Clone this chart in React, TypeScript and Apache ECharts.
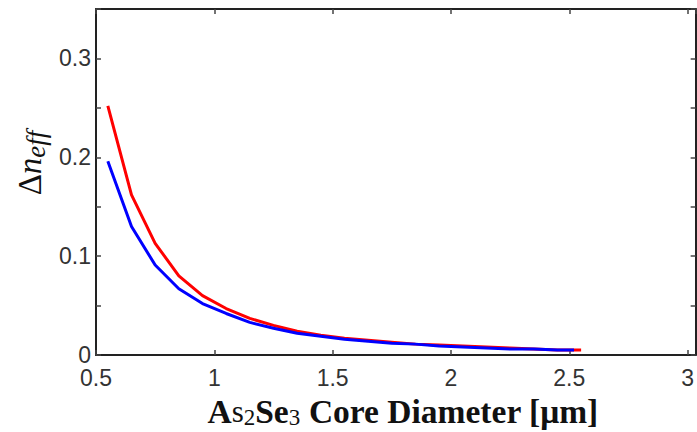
import React, { useEffect, useRef } from "react";
import * as echarts from "echarts";

const redX = [0.55, 0.65, 0.75, 0.85, 0.95, 1.05, 1.15, 1.25, 1.35, 1.45, 1.55, 1.65, 1.75, 1.85, 1.95, 2.05, 2.15, 2.25, 2.35, 2.45, 2.55];
const redY = [0.252, 0.162, 0.113, 0.08, 0.06, 0.047, 0.037, 0.03, 0.024, 0.02, 0.017, 0.015, 0.013, 0.011, 0.01, 0.009, 0.008, 0.007, 0.006, 0.005, 0.005];
const blueX = [0.55, 0.65, 0.75, 0.85, 0.95, 1.05, 1.15, 1.25, 1.35, 1.45, 1.55, 1.65, 1.75, 1.85, 1.95, 2.05, 2.15, 2.25, 2.35, 2.45, 2.52];
const blueY = [0.196, 0.13, 0.091, 0.067, 0.052, 0.042, 0.033, 0.027, 0.022, 0.019, 0.016, 0.014, 0.012, 0.011, 0.009, 0.008, 0.007, 0.006, 0.006, 0.005, 0.005];

const xMin = 0.5;
const xMax = 3.034;
const xInterval = 0.5;
const yMin = 0;
const yMax = 0.35;
const yInterval = 0.05;

const AXIS_COLOR = "#222";

export default function App() {
  const ref = useRef<HTMLDivElement>(null);
  useEffect(() => {
    if (!ref.current) return;
    const chart = echarts.init(ref.current, undefined, { renderer: "svg" });
    const pair = (xs: number[], ys: number[]) => xs.map((x, i) => [x, ys[i]]);
    const axisLine = { show: true, onZero: false, lineStyle: { color: AXIS_COLOR, width: 2 } };
    const axisTick = { show: true, inside: true, length: 5, lineStyle: { color: "#444", width: 1.5 } };
    const labelStyle = { fontFamily: "Liberation Sans", fontSize: 23, color: "#333", lineHeight: 18 };
    chart.setOption({
      animation: false,
      backgroundColor: "#fff",
      grid: { left: 96, right: 1, top: 9, bottom: 77 },
      xAxis: [
        {
          type: "value",
          min: xMin,
          max: xMax,
          interval: xInterval,
          axisLine,
          axisTick,
          splitLine: { show: false },
          axisLabel: {
            ...labelStyle,
            margin: 14,
            showMaxLabel: false,
            formatter: (v: number) => {
              const k = v / xInterval;
              return Math.abs(k - Math.round(k)) < 1e-6 ? String(Math.round(v * 10) / 10) : "";
            },
          },
        },
        {
          type: "value",
          position: "top",
          min: xMin,
          max: xMax,
          interval: xInterval,
          axisLine,
          axisTick,
          splitLine: { show: false },
          axisLabel: { show: false },
        },
      ],
      yAxis: [
        {
          type: "value",
          min: yMin,
          max: yMax,
          interval: yInterval,
          axisLine,
          axisTick,
          splitLine: { show: false },
          axisLabel: {
            ...labelStyle,
            margin: 5,
            formatter: (v: number) => {
              const k = v / 0.1;
              if (Math.abs(k - Math.round(k)) > 1e-6) return "";
              return v === 0 ? "0" : (Math.round(v * 10) / 10).toFixed(1);
            },
          },
        },
        {
          type: "value",
          position: "right",
          min: yMin,
          max: yMax,
          interval: yInterval,
          axisLine,
          axisTick,
          splitLine: { show: false },
          axisLabel: { show: false },
        },
      ],
      graphic: [
        {
          type: "text",
          x: 403,
          y: 411,
          style: {
            text: "{b|A}{r|s}{sub|2}{b|Se}{sub|3}{b| Core Diameter [μm]}",
            align: "center",
            verticalAlign: "middle",
            rich: {
              b: { fontFamily: "Liberation Serif", fontWeight: "bold", fontSize: 33.5, fill: "#111", verticalAlign: "middle", lineHeight: 36 },
              r: { fontFamily: "Liberation Serif", fontSize: 31, fill: "#111", verticalAlign: "middle", lineHeight: 36 },
              sub: { fontFamily: "Liberation Serif", fontSize: 23, fill: "#111", verticalAlign: "bottom", lineHeight: 36 },
            },
          },
        },
        {
          type: "text",
          x: 30,
          y: 163,
          rotation: Math.PI / 2,
          style: {
            text: "{d|Δ}{n|n}{s|eff}",
            align: "center",
            verticalAlign: "middle",
            rich: {
              d: { fontFamily: "Liberation Serif", fontSize: 33, fill: "#111", verticalAlign: "middle", lineHeight: 38 },
              n: { fontFamily: "Liberation Serif", fontStyle: "italic", fontSize: 33, fill: "#111", verticalAlign: "middle", lineHeight: 38 },
              s: { fontFamily: "Liberation Serif", fontStyle: "italic", fontSize: 27, fill: "#111", verticalAlign: "bottom", lineHeight: 38 },
            },
          },
        },
      ],
      series: [
        {
          type: "line",
          data: pair(redX, redY),
          showSymbol: false,
          smooth: false,
          lineStyle: { color: "#ff0000", width: 3 },
          itemStyle: { color: "#ff0000" },
        },
        {
          type: "line",
          data: pair(blueX, blueY),
          showSymbol: false,
          smooth: false,
          lineStyle: { color: "#0000ff", width: 3 },
          itemStyle: { color: "#0000ff" },
        },
      ],
    });
    return () => chart.dispose();
  }, []);
  return <div ref={ref} style={{ width: 697, height: 432, position: "fixed", left: 0, top: 0 }} />;
}
